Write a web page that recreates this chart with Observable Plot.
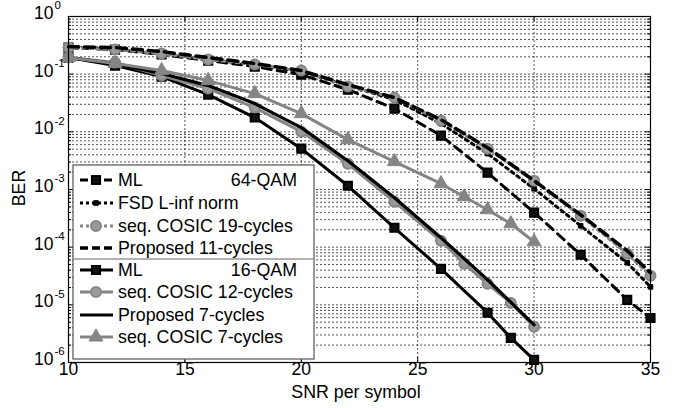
<!DOCTYPE html>
<html>
<head>
<meta charset="utf-8">
<script src="https://cdn.jsdelivr.net/npm/d3@7"></script>
<script src="https://cdn.jsdelivr.net/npm/@observablehq/plot@0.6"></script>
<style>
  html, body { margin: 0; padding: 0; background: #fff; }
  #chart { width: 680px; height: 408px; }
  svg { font-family: "Liberation Sans", Arial, sans-serif; }
</style>
</head>
<body>
<div id="chart"></div>
<script>
// ---------- data ----------
const snr64 = [10, 12, 14, 16, 18, 20, 22, 24, 26, 28, 30, 32, 34, 35];
const ml64 = [0.29, 0.267, 0.219, 0.172, 0.1355, 0.098, 0.054, 0.0253, 0.0086, 0.00196, 3.98e-4, 7.4e-5, 1.22e-5, 5.9e-6];
const fsd64 = [0.29, 0.267, 0.228, 0.179, 0.147, 0.111, 0.0634, 0.0362, 0.0139, 0.00419, 0.00103, 2.35e-4, 5.36e-5, 2.05e-5];
const cosic19 = [0.29, 0.267, 0.228, 0.179, 0.147, 0.1155, 0.061, 0.0392, 0.0156, 0.0051, 0.00142, 3.5e-4, 7.7e-5, 3.2e-5];
const prop11 = [0.30, 0.29, 0.247, 0.194, 0.153, 0.1155, 0.066, 0.0392, 0.0163, 0.00532, 0.00142, 3.65e-4, 8.66e-5, 3.6e-5];

const snrMl16 = [10, 12, 14, 16, 18, 20, 22, 24, 26, 28, 29, 30];
const ml16 = [0.194, 0.141, 0.0908, 0.0442, 0.0177, 0.0051, 0.00116, 2.17e-4, 4.2e-5, 7.3e-6, 2.67e-6, 1.11e-6];
const snrCosic12 = [10, 12, 14, 16, 18, 20, 22, 24, 26, 27, 28, 29, 30];
const cosic12 = [0.194, 0.159, 0.0946, 0.0562, 0.0263, 0.01008, 0.0028, 6.14e-4, 1.29e-4, 5.15e-5, 2.32e-5, 1.08e-5, 4.15e-6];
const snrProp7 = [10, 12, 14, 16, 18, 20, 22, 24, 26, 28, 30];
const prop7 = [0.194, 0.153, 0.1024, 0.0634, 0.0309, 0.01183, 0.00316, 7.2e-4, 1.456e-4, 2.72e-5, 4.5e-6];
const snrCosic7 = [10, 12, 14, 16, 18, 20, 22, 24, 26, 27, 28, 29, 30];
const cosic7 = [0.194, 0.153, 0.1155, 0.0774, 0.046, 0.0207, 0.00732, 0.00304, 0.00126, 7.5e-4, 4.46e-4, 2.55e-4, 1.24e-4];

const xTicks = [10, 15, 20, 25, 30, 35];
const yExponents = [0, -1, -2, -3, -4, -5, -6];
const legendLabels = ["ML", "FSD L-inf norm", "seq. COSIC 19-cycles", "Proposed 11-cycles",
                      "ML", "seq. COSIC 12-cycles", "Proposed 7-cycles", "seq. COSIC 7-cycles"];
const groupLabels = ["64-QAM", "16-QAM"];
const xLabel = "SNR per symbol";
const yLabel = "BER";

// ---------- helpers ----------
const zip = (xs, ys) => xs.map((x, i) => ({x, y: ys[i]}));
const yMajor = yExponents.map(e => Math.pow(10, e));
const yMinor = [];
for (let e = -6; e < 0; e++) for (let m = 2; m <= 9; m++) yMinor.push(m * Math.pow(10, e));

const W = 680, H = 408;
const mL = 68, mR = 30, mT = 16, mB = 46;
const pW = W - mL - mR, pH = H - mT - mB;
const GRAY = "#858585";
const FS = 17.8;

// series styles (shared with legend)
const styles = [
  {data: zip(snr64, ml64), stroke: "#000", width: 3, dash: "9,6", symbol: "square", r: 4.6, fill: "#111", symStroke: "#000", symWidth: 2},
  {data: zip(snr64, fsd64), stroke: "#000", width: 3, dash: "3,4", symbol: "square", r: 2.6, fill: "#000", symStroke: "#000", symWidth: 1},
  {data: zip(snr64, cosic19), stroke: GRAY, width: 3, dash: "3,4", symbol: "circle", r: 5, fill: "#9a9a9a", symStroke: GRAY, symWidth: 2},
  {data: zip(snr64, prop11), stroke: "#000", width: 3.5, dash: "10,6", symbol: null},
  {data: zip(snrMl16, ml16), stroke: "#000", width: 3, dash: null, symbol: "square", r: 4.6, fill: "#111", symStroke: "#000", symWidth: 2},
  {data: zip(snrCosic12, cosic12), stroke: GRAY, width: 3, dash: null, symbol: "circle", r: 5, fill: "#9a9a9a", symStroke: GRAY, symWidth: 2},
  {data: zip(snrProp7, prop7), stroke: "#000", width: 3.2, dash: null, symbol: null},
  {data: zip(snrCosic7, cosic7), stroke: GRAY, width: 3, dash: null, symbol: "triangle", r: 5.2, fill: GRAY, symStroke: GRAY, symWidth: 1}
];

const seriesMarks = [];
for (const s of styles) {
  seriesMarks.push(Plot.line(s.data, {x: "x", y: "y", stroke: s.stroke, strokeWidth: s.width,
    strokeDasharray: s.dash || undefined, strokeLinejoin: "round"}));
  if (s.symbol) {
    seriesMarks.push(Plot.dot(s.data, {x: "x", y: "y", symbol: s.symbol, r: s.r, fill: s.fill,
      stroke: s.symStroke, strokeWidth: s.symWidth}));
  }
}

const plot = Plot.plot({
  width: W, height: H,
  marginLeft: mL, marginRight: mR, marginTop: mT, marginBottom: mB,
  style: {fontFamily: '"Liberation Sans", Arial, sans-serif', background: "#fff", color: "#000"},
  x: {domain: [10, 35], axis: null},
  y: {type: "log", domain: [1e-6, 1], axis: null},
  marks: [
    // grid
    Plot.ruleY(yMinor.concat(yMajor.slice(1, -1)), {y: d => d, stroke: "#000", strokeWidth: 0.8, strokeOpacity: 0.85, strokeDasharray: "2,2"}),
    Plot.ruleX(xTicks.slice(1, -1), {x: d => d, stroke: "#000", strokeWidth: 0.8, strokeOpacity: 0.85, strokeDasharray: "2,2"}),
    // ticks (inward)
    Plot.tickY(yMajor, {y: d => d, insetRight: pW - 5, stroke: "#000"}),
    Plot.tickY(yMajor, {y: d => d, insetLeft: pW - 5, stroke: "#000"}),
    Plot.tickY(yMinor, {y: d => d, insetRight: pW - 3, stroke: "#000"}),
    Plot.tickY(yMinor, {y: d => d, insetLeft: pW - 3, stroke: "#000"}),
    Plot.tickX(xTicks, {x: d => d, insetTop: pH - 5, stroke: "#000"}),
    Plot.tickX(xTicks, {x: d => d, insetBottom: pH - 5, stroke: "#000"}),
    // series
    ...seriesMarks,
    Plot.frame({stroke: "#000", strokeWidth: 1.2}),
    // tick labels
    Plot.text(xTicks, {x: d => d, frameAnchor: "bottom", text: d => String(d), dy: 12, fontSize: 17.5, fill: "#000"}),
    Plot.text(yMajor, {y: d => d, frameAnchor: "left", text: () => "10", textAnchor: "end", dx: -15, dy: -3, fontSize: 17.5, fill: "#000"}),
    Plot.text(yExponents, {y: d => Math.pow(10, d), frameAnchor: "left", text: d => String(d).replace("\u2212", "-"), textAnchor: "start", dx: -14, dy: -11, fontSize: 11.5, fill: "#000"})
  ]
});

document.getElementById("chart").appendChild(plot);

// axis titles and legend
const svg = d3.select(plot);
svg.append("text").attr("x", 356).attr("y", 398).attr("text-anchor", "middle")
  .attr("font-size", FS).attr("fill", "#000").text(xLabel);
svg.append("text").attr("transform", "translate(25,188) rotate(-90)").attr("text-anchor", "middle")
  .attr("font-size", FS).attr("fill", "#000").text(yLabel);

const lg = svg.append("g").attr("text-anchor", "start");
const boxX = 73, boxY = 165, boxW = 241, boxH = 194, divY = 259;
lg.append("rect").attr("x", boxX).attr("y", boxY).attr("width", boxW).attr("height", boxH)
  .attr("fill", "#fff").attr("stroke", "#555").attr("stroke-width", 1.2);
lg.append("line").attr("x1", boxX).attr("x2", boxX + boxW).attr("y1", divY).attr("y2", divY)
  .attr("stroke", "#999").attr("stroke-width", 1.5);
const rowY = [180, 203, 226, 248, 270, 292, 315, 337];
const symMap = {square: d3.symbolSquare, circle: d3.symbolCircle, triangle: d3.symbolTriangle};
styles.forEach((s, i) => {
  const y = rowY[i];
  lg.append("line").attr("x1", 80).attr("x2", 113).attr("y1", y).attr("y2", y)
    .attr("stroke", s.stroke).attr("stroke-width", s.width)
    .attr("stroke-dasharray", s.dash ? (s.dash === "3,4" ? "3,3" : "8,4") : null);
  if (s.symbol) {
    lg.append("path").attr("transform", `translate(96,${y})`)
      .attr("d", d3.symbol(symMap[s.symbol], Math.PI * s.r * s.r)())
      .attr("fill", s.fill).attr("stroke", s.symStroke).attr("stroke-width", s.symWidth);
  }
  lg.append("text").attr("x", 118).attr("y", y + 6).attr("text-anchor", "start")
    .attr("font-size", FS).attr("fill", "#000").text(legendLabels[i]);
});
lg.append("text").attr("x", 297).attr("y", rowY[0] + 6).attr("text-anchor", "end").attr("font-size", FS).attr("fill", "#000").text(groupLabels[0]);
lg.append("text").attr("x", 297).attr("y", rowY[4] + 6).attr("text-anchor", "end").attr("font-size", FS).attr("fill", "#000").text(groupLabels[1]);
</script>
</body>
</html>
